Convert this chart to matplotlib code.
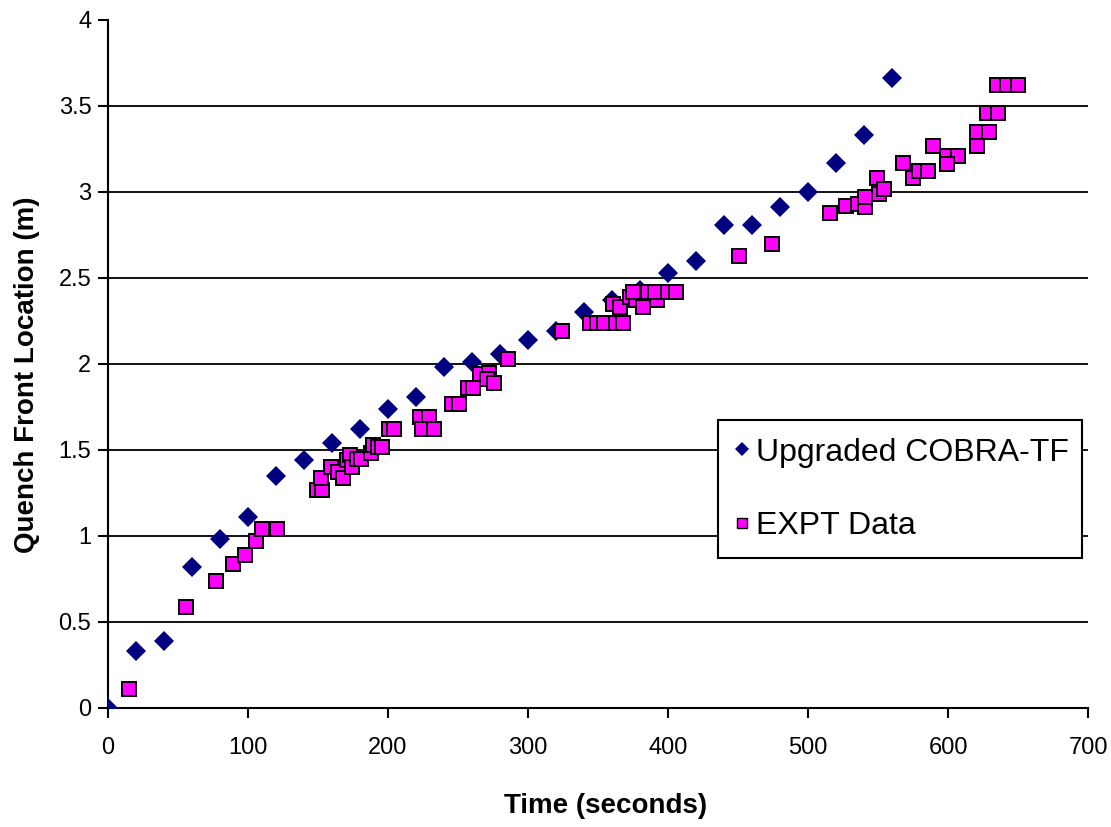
import matplotlib
matplotlib.use("Agg")
import matplotlib.pyplot as plt
from matplotlib.lines import Line2D

plt.rcParams['font.family'] = ['Liberation Sans', 'DejaVu Sans']

# Upgraded COBRA-TF prediction
cobra_time = [0, 20, 40, 60, 80, 100, 120, 140, 160, 180, 200, 220, 240, 260,
              280, 300, 320, 340, 360, 380, 400, 420, 440, 460, 480, 500, 520,
              540, 560]
cobra_qf = [0.0, 0.33, 0.39, 0.82, 0.98, 1.11, 1.35, 1.44, 1.54, 1.62, 1.74,
            1.81, 1.98, 2.01, 2.06, 2.14, 2.19, 2.30, 2.37, 2.43, 2.53, 2.60,
            2.81, 2.81, 2.91, 3.00, 3.17, 3.33, 3.66]

# experimental data
expt_time = [15, 56, 77, 89, 98, 106, 110, 121,
             149, 153, 152, 159, 164, 168, 171, 173, 174, 178, 181, 188, 189,
             193, 196, 201, 204,
             223, 229, 224, 233, 246, 251, 257, 261, 266, 272, 271, 276, 286,
             324,
             344, 349, 354, 363, 368, 361, 366, 373, 377, 382, 386, 392, 391,
             400, 406, 375,
             451, 474,
             516, 527, 536, 541, 541, 549, 551, 554,
             568, 575, 579, 586, 589, 599, 607, 599, 621, 621, 629, 628, 636,
             635, 642, 650]
expt_qf = [0.11, 0.59, 0.74, 0.84, 0.89, 0.97, 1.04, 1.04,
           1.27, 1.27, 1.34, 1.40, 1.37, 1.34, 1.44, 1.47, 1.40, 1.45, 1.45,
           1.48, 1.53, 1.52, 1.52, 1.62, 1.62,
           1.69, 1.69, 1.62, 1.62, 1.77, 1.77, 1.86, 1.86, 1.94, 1.95, 1.91,
           1.89, 2.03,
           2.19,
           2.24, 2.24, 2.24, 2.24, 2.24, 2.35, 2.33, 2.39, 2.37, 2.33, 2.42,
           2.37, 2.42, 2.42, 2.42, 2.42,
           2.63, 2.70,
           2.88, 2.92, 2.93, 2.91, 2.97, 3.08, 2.99, 3.02,
           3.17, 3.08, 3.12, 3.12, 3.27, 3.21, 3.21, 3.16, 3.27, 3.35, 3.35,
           3.46, 3.46, 3.62, 3.62, 3.62]

fig = plt.figure(figsize=(11.11, 8.27), dpi=100)
ax = fig.add_axes([108 / 1111, 119 / 827, 980 / 1111, 688 / 827])

ax.plot(cobra_time, cobra_qf, linestyle='none', marker='D', markersize=10.5,
        color='#000080', markeredgewidth=0, zorder=3)
ax.plot(expt_time, expt_qf, linestyle='none', marker='s', markersize=9.5,
        markerfacecolor='#FF00FF', markeredgecolor='black',
        markeredgewidth=1.4, zorder=4)

ax.set_xlim(0, 700)
ax.set_ylim(0, 4)
ax.set_xticks(range(0, 701, 100))
ax.set_yticks([0, 0.5, 1, 1.5, 2, 2.5, 3, 3.5, 4])
ax.set_yticklabels(['0', '0.5', '1', '1.5', '2', '2.5', '3', '3.5', '4'])

for yv in [0.5, 1, 1.5, 2, 2.5, 3, 3.5]:
    ax.axhline(yv, color='black', linewidth=1.3, zorder=1)

for s in ['top', 'right']:
    ax.spines[s].set_visible(False)
for s in ['left', 'bottom']:
    ax.spines[s].set_linewidth(1.5)
    ax.spines[s].set_zorder(2)

ax.tick_params(axis='both', direction='out', length=7, width=1.5,
               labelsize=17)
ax.tick_params(axis='x', pad=14)
ax.tick_params(axis='y', pad=5)

ax.set_xlabel('Time (seconds)', fontsize=20, fontweight='bold')
ax.set_ylabel('Quench Front Location (m)', fontsize=20, fontweight='bold')
ax.xaxis.set_label_coords(0.508, -0.123)
ax.yaxis.set_label_coords(-0.069, 0.484)

handles = [
    Line2D([], [], linestyle='none', marker='D', markersize=7.5,
           color='#000080', markeredgewidth=0),
    Line2D([], [], linestyle='none', marker='s', markersize=7,
           markerfacecolor='#FF00FF', markeredgecolor='black',
           markeredgewidth=1),
]
leg = ax.legend(handles, ['Upgraded COBRA-TF', 'EXPT Data'],
                loc='upper left', bbox_to_anchor=(0.622, 0.2, 0.372, 0.2186),
                mode='expand',
                fontsize=23, frameon=True, fancybox=False, framealpha=1,
                edgecolor='black', borderpad=0.55, labelspacing=1.35,
                handlelength=0.4, handletextpad=0.25, borderaxespad=0)
leg.get_frame().set_linewidth(1.5)

fig.savefig('out.png', dpi=100)
